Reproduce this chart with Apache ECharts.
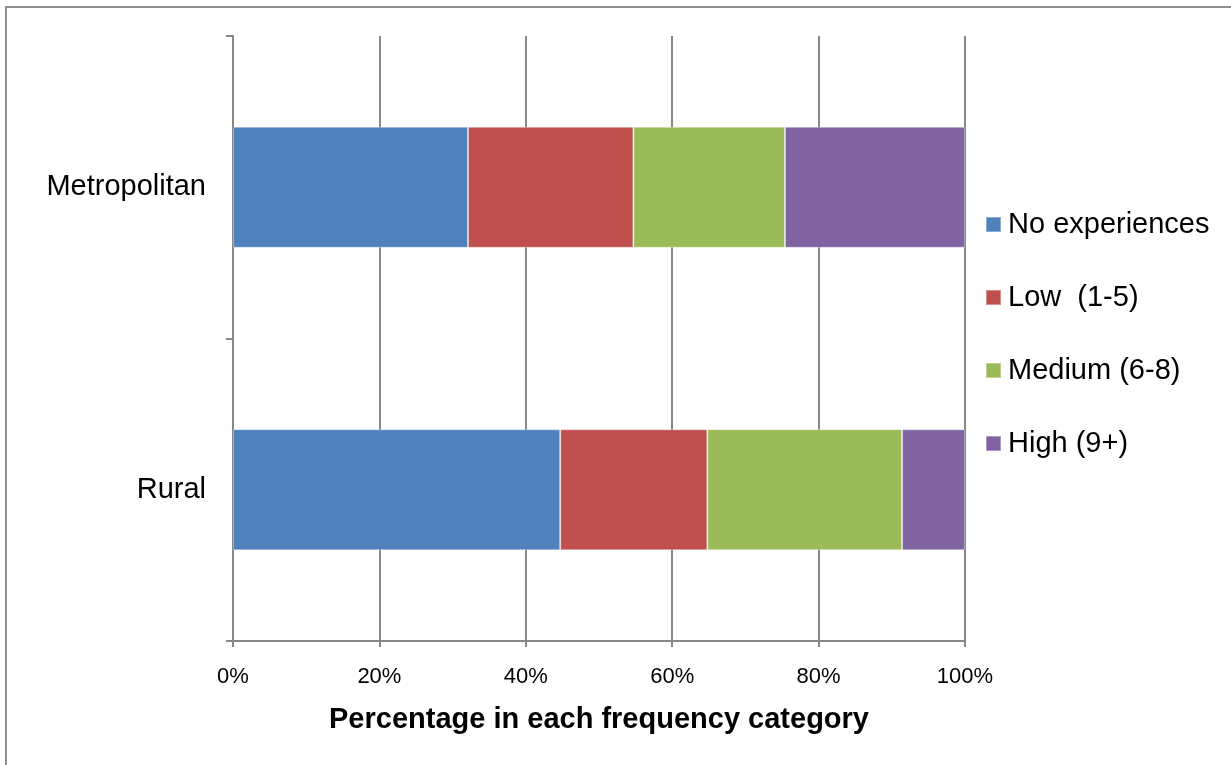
<!DOCTYPE html>
<html>
<head>
<meta charset="utf-8">
<title>Frequency categories by area</title>
<script src="https://cdn.jsdelivr.net/npm/echarts@6/dist/echarts.min.js"></script>
<style>
  html, body { margin: 0; padding: 0; background: #ffffff; }
  #chart { width: 1231px; height: 765px; }
</style>
</head>
<body>
<div id="chart"></div>
<script>
// Area types shown on the vertical axis (top to bottom)
const categories = ['Metropolitan', 'Rural'];

// Share of respondents in each frequency category (%)
const noExperiences = [32.1, 44.7];
const lowFreq = [22.6, 20.1];
const mediumFreq = [20.7, 26.6];
const highFreq = [24.6, 8.6];

const seriesNames = ['No experiences', 'Low  (1-5)', 'Medium (6-8)', 'High (9+)'];
const seriesColors = ['#4F81BD', '#C0504D', '#9BBB59', '#8064A2'];
const seriesValues = [noExperiences, lowFreq, mediumFreq, highFreq];

// Horizontal axis ticks
const xMin = 0, xMax = 100, xStep = 20;

const FONT = "'Liberation Sans', Arial, sans-serif";
const axisGray = '#878787';

const chart = echarts.init(document.getElementById('chart'), null, { renderer: 'canvas' });

chart.setOption({
  backgroundColor: '#ffffff',
  animation: false,
  textStyle: { fontFamily: FONT, color: '#000' },
  graphic: [{
    type: 'rect',
    shape: { x: 6, y: 7, width: 1260, height: 800 },
    style: { fill: 'none', stroke: '#8e8e8e', lineWidth: 2 },
    silent: true
  }],
  grid: { left: 233, right: 266, top: 36, bottom: 124, containLabel: false },
  legend: {
    orient: 'vertical',
    left: 980,
    top: 205,
    itemWidth: 15,
    itemHeight: 15,
    itemGap: 44,
    icon: 'rect',
    data: seriesNames,
    textStyle: { fontFamily: FONT, fontSize: 29, color: '#000', padding: [0, 0, 0, 2] }
  },
  xAxis: {
    type: 'value',
    min: xMin,
    max: xMax,
    interval: xStep,
    name: 'Percentage in each frequency category',
    nameLocation: 'middle',
    nameGap: 64,
    nameTextStyle: { fontFamily: FONT, fontSize: 29, fontWeight: 'bold', color: '#000' },
    axisLine: { show: true, lineStyle: { color: axisGray, width: 2 } },
    axisTick: { show: true, length: 6, lineStyle: { color: axisGray, width: 2 } },
    axisLabel: {
      formatter: '{value}%',
      fontFamily: FONT,
      fontSize: 22,
      color: '#000',
      margin: 25
    },
    splitLine: { show: true, lineStyle: { color: axisGray, width: 2 } }
  },
  yAxis: {
    type: 'category',
    inverse: true,
    data: categories,
    axisLine: { show: true, lineStyle: { color: axisGray, width: 2 } },
    axisTick: { show: true, length: 7, lineStyle: { color: axisGray, width: 2 } },
    axisLabel: { fontFamily: FONT, fontSize: 29, color: '#000', margin: 27 },
    splitLine: { show: false }
  },
  series: seriesNames.map((name, i) => ({
    name: name,
    type: 'bar',
    stack: 'total',
    barWidth: '40%',
    data: seriesValues[i],
    itemStyle: {
      color: seriesColors[i],
      borderColor: 'rgba(255,255,255,0.35)',
      borderWidth: 1
    }
  }))
});
</script>
</body>
</html>
